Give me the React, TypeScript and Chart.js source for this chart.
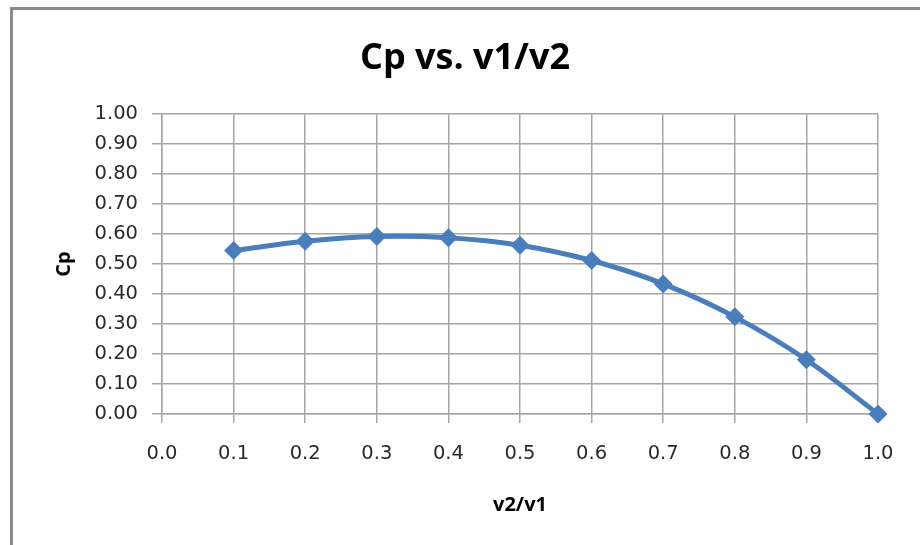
import React, { useEffect, useRef } from "react";
import { Chart, registerables } from "chart.js";

Chart.register(...registerables);

const ratios = [0.1, 0.2, 0.3, 0.4, 0.5, 0.6, 0.7, 0.8, 0.9, 1.0];
const cpValues = [0.545, 0.576, 0.592, 0.588, 0.563, 0.512, 0.434, 0.324, 0.181, 0.0];
const chartTitle = "Cp vs. v1/v2";
const xTitle = "v2/v1";
const yTitle = "Cp";

export default function App() {
  const ref = useRef<HTMLCanvasElement | null>(null);

  useEffect(() => {
    if (!ref.current) return;
    const tickFont = { family: "DejaVu Sans", size: 19.5 };
    const chart = new Chart(ref.current, {
      type: "line",
      data: {
        datasets: [
          {
            data: ratios.map((r, i) => ({ x: r, y: cpValues[i] })),
            borderColor: "#4a7ebb",
            backgroundColor: "#4a7ebb",
            borderWidth: 5,
            pointStyle: "rectRot",
            pointRadius: 9.5,
            pointBorderWidth: 0,
            tension: 0.35,
            fill: false,
            clip: false,
          },
        ],
      },
      options: {
        animation: false,
        responsive: false,
        maintainAspectRatio: false,
        layout: { padding: { left: 52, right: 42, top: 0, bottom: 0 } },
        plugins: {
          legend: { display: false },
          tooltip: { enabled: false },
          title: {
            display: true,
            text: chartTitle,
            color: "#000",
            font: { family: "Open Sans", size: 36, weight: "bold", lineHeight: 1.2 },
            padding: { top: 37, bottom: 34 },
          },
        },
        scales: {
          x: {
            type: "linear",
            min: 0,
            max: 1,
            ticks: {
              stepSize: 0.1,
              callback: (v: any) => Number(v).toFixed(1),
              font: tickFont,
              color: "#2a2a2a",
              padding: 19,
            },
            grid: { color: "#a6a6a6", lineWidth: 1.5, tickLength: 9 },
            border: { color: "#a6a6a6", width: 1.5 },
            title: {
              display: true,
              text: xTitle,
              color: "#000",
              font: { family: "Open Sans", size: 20, weight: "bold", lineHeight: 1.2 },
              padding: { top: 0, bottom: 28 },
            },
            afterFit: (s: any) => {
              s.height = 131;
            },
          },
          y: {
            type: "linear",
            min: 0,
            max: 1,
            ticks: {
              stepSize: 0.1,
              callback: (v: any) => Number(v).toFixed(2),
              font: tickFont,
              color: "#2a2a2a",
              padding: 14,
            },
            grid: { color: "#a6a6a6", lineWidth: 1.5, tickLength: 10 },
            border: { color: "#a6a6a6", width: 1.5 },
            title: {
              display: true,
              text: yTitle,
              color: "#000",
              font: { family: "Open Sans", size: 20, weight: "bold", lineHeight: 1.2 },
              padding: { top: 0, bottom: 0 },
            },
            afterFit: (s: any) => {
              s.width = 110;
            },
          },
        },
      },
    });
    return () => chart.destroy();
  }, []);

  return (
    <div style={{ position: "fixed", left: 0, top: 0, width: 920, height: 545, background: "#fff", overflow: "hidden" }}>
      <div
        style={{
          position: "absolute",
          left: 10,
          top: 7,
          width: 1000,
          height: 1000,
          borderLeft: "3px solid #8a8a8a",
          borderTop: "3px solid #8a8a8a",
        }}
      />
      <canvas ref={ref} width={920} height={545} style={{ position: "absolute", left: 0, top: 0, width: 920, height: 545 }} />
    </div>
  );
}
